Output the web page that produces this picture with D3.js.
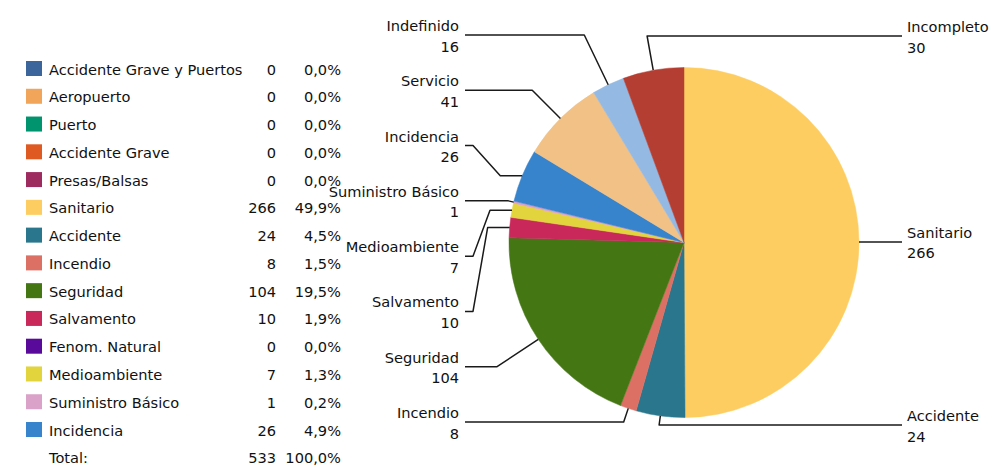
<!DOCTYPE html>
<html><head><meta charset="utf-8">
<script src="https://cdn.jsdelivr.net/npm/d3@7"></script>
<style>body{margin:0;background:#fff}text{font-family:"DejaVu Sans",sans-serif;font-size:14.6px;fill:#111}</style>
</head><body>
<svg id="chart" width="991" height="467"></svg>
<script>
// ---- data ----
const legendCategories = ["Accidente Grave y Puertos","Aeropuerto","Puerto","Accidente Grave","Presas/Balsas","Sanitario","Accidente","Incendio","Seguridad","Salvamento","Fenom. Natural","Medioambiente","Suministro Básico","Incidencia"];
const legendValues = [0,0,0,0,0,266,24,8,104,10,0,7,1,26];
const legendColors = ["#3C659B","#F0A55A","#00946E","#DF5A22","#9E2B60","#FECD61","#2A768C","#DD7064","#457614","#C9295A","#5A0A9A","#E2D43C","#DAA2C8","#3784CD"];
const pieCategories = ["Sanitario","Accidente","Incendio","Seguridad","Salvamento","Medioambiente","Suministro Básico","Incidencia","Servicio","Indefinido","Incompleto"];
const pieValues = [266,24,8,104,10,7,1,26,41,16,30];
const pieColors = ["#FECD61","#2A768C","#DD7064","#457614","#C9295A","#E2D43C","#DAA2C8","#3784CD","#F1C186","#94B9E2","#B53E33"];
const totalLabel = "Total:";

// ---- layout ----
const svg = d3.select("#chart");
const total = d3.sum(pieValues);
const fmtPct = v => d3.format(".1f")(v * 100).replace(".", ",") + "%";

// legend
const rowY = d3.scalePoint().domain(d3.range(legendCategories.length + 1)).range([68.5, 68.5 + 27.77 * legendCategories.length]);
const lg = svg.append("g");
legendCategories.forEach((c, i) => {
  const y = rowY(i);
  lg.append("rect").attr("x", 26).attr("y", y - 7.5).attr("width", 16).attr("height", 15).attr("fill", legendColors[i]);
  lg.append("text").attr("x", 49).attr("y", y + 6).text(c);
  lg.append("text").attr("x", 276).attr("y", y + 6).attr("text-anchor", "end").text(legendValues[i]);
  lg.append("text").attr("x", 341).attr("y", y + 6).attr("text-anchor", "end").text(fmtPct(legendValues[i] / total));
});
{
  const y = rowY(legendCategories.length);
  lg.append("text").attr("x", 49).attr("y", y + 6).text(totalLabel);
  lg.append("text").attr("x", 276).attr("y", y + 6).attr("text-anchor", "end").text(total);
  lg.append("text").attr("x", 341).attr("y", y + 6).attr("text-anchor", "end").text(fmtPct(1));
}

// pie
const cx = 684, cy = 242.5, R = 175;
const pie = d3.pie().sort(null).value(d => d.v).startAngle(0).endAngle(2 * Math.PI);
const arcs = pie(pieCategories.map((c, i) => ({ c, v: pieValues[i], col: pieColors[i] })));
const arc = d3.arc().innerRadius(0).outerRadius(R);
const pg = svg.append("g").attr("transform", `translate(${cx},${cy})`);
pg.selectAll("path").data(arcs).join("path").attr("d", arc).attr("fill", d => d.data.col)
  .attr("stroke", d => d.data.col).attr("stroke-width", 0.5);

// labels
const items = arcs.map(a => {
  const m = (a.startAngle + a.endAngle) / 2;
  const ux = Math.sin(m), uy = -Math.cos(m);
  return { a, m, ux, uy, px: cx + R * ux, py: cy + R * uy, right: ux > -0.25 };
});
const left = items.filter(d => !d.right).sort((p, q) => p.py - q.py);
const right = items.filter(d => d.right).sort((p, q) => p.py - q.py);
const ly = d3.scalePoint().domain(d3.range(left.length)).range([35, 422]);
left.forEach((d, i) => { d.ly = ly(i); d.lx = 465; d.tx = 459; });
right.forEach((d, i) => {
  d.ly = i === 0 ? 36 : (i === right.length - 1 ? 425 : d.py);
  d.lx = 902; d.tx = 907;
});

const lineG = svg.append("g").attr("fill", "none").attr("stroke", "#1a1a1a").attr("stroke-width", 1.5).attr("stroke-linejoin", "round");
const line = d3.line();
items.forEach(d => {
  let pts;
  const dy = d.ly - d.py;
  const dir = d.right ? 1 : -1;
  if (Math.abs(dy) < 1) {
    pts = [[d.px, d.py], [d.lx, d.ly]];
  } else {
    const t = Math.abs(d.uy) > 1e-6 ? dy / d.uy : -1;
    const kx = d.px + t * d.ux;
    const ok = t >= 0 && (d.right ? kx <= d.lx - 10 : kx >= d.lx + 10);
    if (ok) pts = [[d.px, d.py], [kx, d.ly], [d.lx, d.ly]];
    else pts = [[d.px, d.py], [d.px + dir * 22, d.py], [d.lx - dir * 8, d.ly], [d.lx, d.ly]];
  }
  lineG.append("path").attr("d", line(pts));
  const anchor = d.right ? "start" : "end";
  svg.append("text").attr("x", d.tx).attr("y", d.ly - 4).attr("text-anchor", anchor).text(d.a.data.c);
  svg.append("text").attr("x", d.tx).attr("y", d.ly + 16.5).attr("text-anchor", anchor).text(d.a.data.v);
});
</script></body></html>
